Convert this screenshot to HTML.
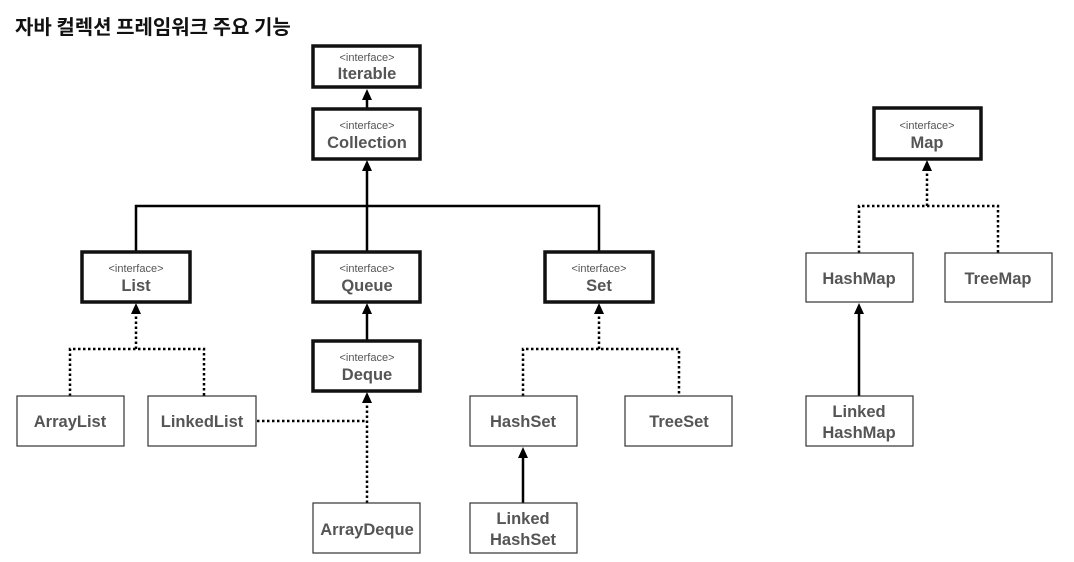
<!DOCTYPE html>
<html><head><meta charset="utf-8"><style>
html,body{margin:0;padding:0;background:#fff;}
svg{display:block;}
text{font-family:"Liberation Sans","Noto Sans CJK KR",sans-serif;font-weight:bold;fill:#555;text-anchor:middle;}
.s{font-size:11px;font-weight:normal;}
.b{font-size:16.5px;}
.ib{fill:#fff;stroke:#111;stroke-width:3.5;}
.pb{fill:#fff;stroke:#333;stroke-width:1.2;}
.sl{stroke:#000;stroke-width:2.5;fill:none;}
.dl{stroke:#000;stroke-width:2.5;fill:none;stroke-dasharray:2.5 2.5;}
</style></head><body>
<svg width="1074" height="562" viewBox="0 0 1074 562">
<text x="15" y="34" style="font-size:20px;fill:#111;text-anchor:start;font-family:'Noto Sans CJK KR',sans-serif;">자바 컬렉션 프레임워크 주요 기능</text>
<!-- lines -->
<path class="sl" d="M367,113 V98"/>
<path class="sl" d="M136,252 V206 H599 V252 M367,252 V168"/>
<path class="sl" d="M367,340 V312"/>
<path class="dl" d="M70,396 V349 H204 V396 M136,349 V312"/>
<path class="dl" d="M257,421 H367 M367,503 V400"/>
<path class="dl" d="M523,396 V349 H679 V396 M599,349 V312"/>
<path class="sl" d="M523,503 V456"/>
<path class="dl" d="M859,253 V206 H998 V253 M927,206 V170"/>
<path class="sl" d="M859,396 V312"/>
<!-- arrowheads -->
<g fill="#000">
<polygon points="367,89 362,100 372,100"/>
<polygon points="367,160 362,171 372,171"/>
<polygon points="136,303 131,314 141,314"/>
<polygon points="367,303 362,314 372,314"/>
<polygon points="599,303 594,314 604,314"/>
<polygon points="367,392 362,403 372,403"/>
<polygon points="523,447 518,458 528,458"/>
<polygon points="927,160 922,171 932,171"/>
<polygon points="859,303 854,314 864,314"/>
</g>
<!-- interface boxes -->
<rect class="ib" x="313" y="46" width="107" height="41"/><text class="s" x="367" y="61">&lt;interface&gt;</text><text class="b" x="367" y="79">Iterable</text>
<rect class="ib" x="313" y="109" width="107" height="50"/><text class="s" x="367" y="129">&lt;interface&gt;</text><text class="b" x="367" y="148">Collection</text>
<rect class="ib" x="82" y="252" width="108" height="50"/><text class="s" x="136" y="272">&lt;interface&gt;</text><text class="b" x="136" y="291">List</text>
<rect class="ib" x="313" y="252" width="107" height="50"/><text class="s" x="367" y="272">&lt;interface&gt;</text><text class="b" x="367" y="291">Queue</text>
<rect class="ib" x="545" y="252" width="108" height="50"/><text class="s" x="599" y="272">&lt;interface&gt;</text><text class="b" x="599" y="291">Set</text>
<rect class="ib" x="313" y="341" width="107" height="50"/><text class="s" x="367" y="361">&lt;interface&gt;</text><text class="b" x="367" y="380">Deque</text>
<rect class="ib" x="874" y="108" width="107" height="51"/><text class="s" x="927" y="129">&lt;interface&gt;</text><text class="b" x="927" y="148">Map</text>
<!-- plain boxes -->
<rect class="pb" x="17" y="396" width="107" height="50"/><text class="b" x="70" y="427">ArrayList</text>
<rect class="pb" x="148" y="396" width="108" height="50"/><text class="b" x="202" y="427">LinkedList</text>
<rect class="pb" x="313" y="503" width="107" height="50"/><text class="b" x="367" y="535">ArrayDeque</text>
<rect class="pb" x="470" y="396" width="107" height="50"/><text class="b" x="523" y="427">HashSet</text>
<rect class="pb" x="625" y="396" width="107" height="50"/><text class="b" x="679" y="427">TreeSet</text>
<rect class="pb" x="470" y="503" width="107" height="50"/><text class="b" x="523" y="524">Linked</text><text class="b" x="523" y="545">HashSet</text>
<rect class="pb" x="806" y="253" width="107" height="49"/><text class="b" x="859" y="284">HashMap</text>
<rect class="pb" x="945" y="253" width="107" height="49"/><text class="b" x="998" y="284">TreeMap</text>
<rect class="pb" x="806" y="396" width="107" height="50"/><text class="b" x="859" y="417">Linked</text><text class="b" x="859" y="438">HashMap</text>
</svg>
</body></html>
